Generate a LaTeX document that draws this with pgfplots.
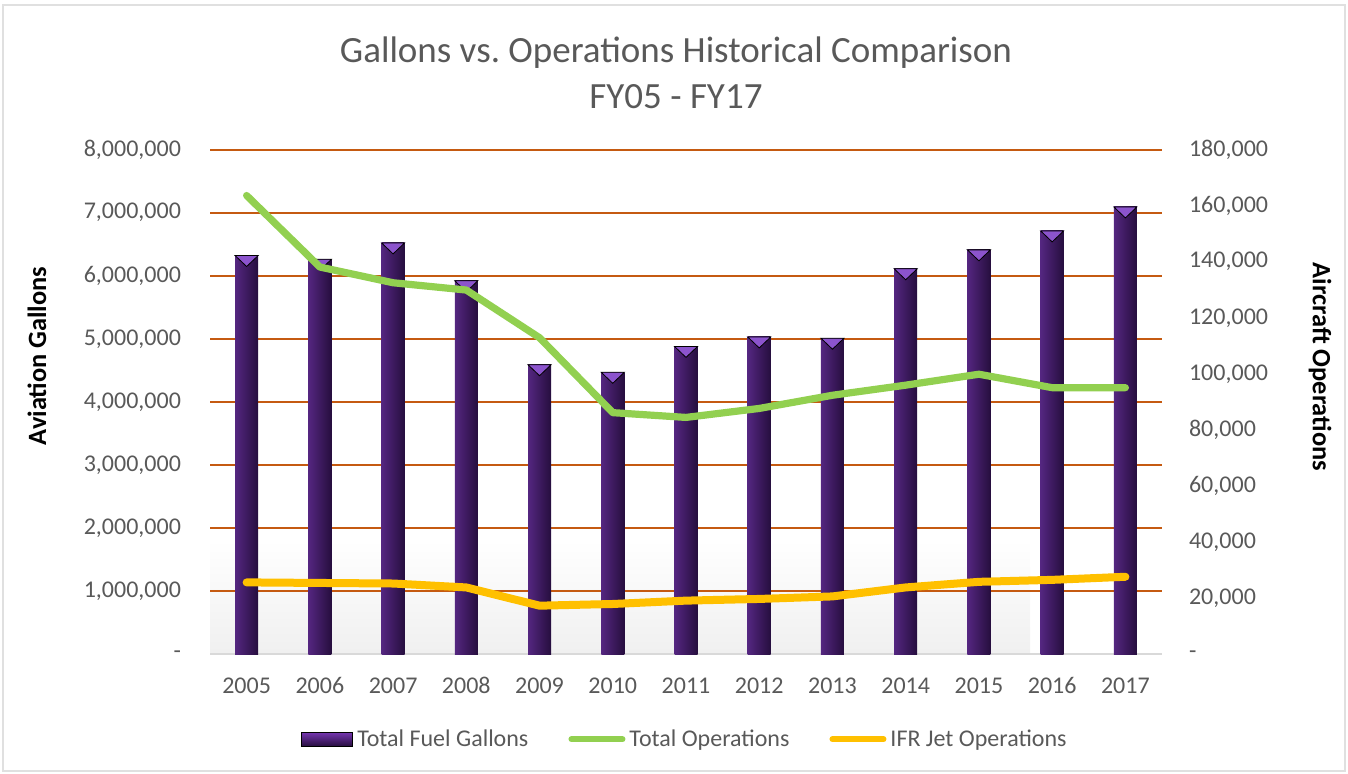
\documentclass[border=0pt]{standalone}
\usepackage{fontspec}
\setmainfont{Carlito}
\usepackage{pgfplots}
\pgfplotsset{compat=1.18}
\definecolor{textgray}{RGB}{89,89,89}
\definecolor{gridorange}{RGB}{197,90,17}
\definecolor{opsgreen}{RGB}{146,208,80}
\definecolor{ifryellow}{RGB}{255,192,0}
\definecolor{barleft}{RGB}{84,38,128}
\definecolor{barmid}{RGB}{118,54,176}
\definecolor{barright}{RGB}{38,14,62}
\definecolor{bevel}{RGB}{140,84,205}
\definecolor{basegray}{RGB}{217,217,217}
\pgfplotsset{mybar/.style={ybar, bar width=11.5pt, bar shift=0pt, draw=none, left color=barleft, middle color=barmid, right color=barright, forget plot}}
\begin{document}
\frenchspacing
\begin{tikzpicture}
\useasboundingbox (0,0) rectangle (674pt,387pt);
\draw[black!12, line width=0.6pt] (1.5pt,1.5pt) rectangle (672.5pt,384.5pt);
\fill[top color=white, bottom color=black!6] (105pt,59.75pt) rectangle (515pt,117pt);
\node[font=\fontsize{18.5}{22}\selectfont, text=textgray] at (338pt,360.5pt) {Gallons vs. Operations Historical Comparison};
\node[font=\fontsize{18.5}{22}\selectfont, text=textgray] at (338pt,338.5pt) {FY05 - FY17};
\node[font=\fontsize{13.2}{16}\selectfont\bfseries, rotate=90] at (18.5pt,209pt) {Aviation Gallons};
\node[font=\fontsize{13.2}{16}\selectfont\bfseries, rotate=-90] at (660pt,203.5pt) {Aircraft Operations};
\begin{axis}[
  at={(105pt,59.75pt)}, anchor=south west,
  scale only axis, width=476pt, height=252.5pt,
  xmin=-0.5, xmax=12.5, ymin=0, ymax=8000000,
  axis x line*=bottom, axis y line*=left,
  x axis line style={draw=basegray, line width=1pt, -},
  y axis line style={draw=none},
  major tick length=0pt,
  xtick={0,...,12},
  xticklabels={2005,2006,2007,2008,2009,2010,2011,2012,2013,2014,2015,2016,2017},
  ytick={0,1000000,2000000,3000000,4000000,5000000,6000000,7000000,8000000},
  yticklabels={{-},{1,000,000},{2,000,000},{3,000,000},{4,000,000},{5,000,000},{6,000,000},{7,000,000},{8,000,000}},
  ymajorgrids, grid style={draw=gridorange, line width=1pt},
  ticklabel style={font=\fontsize{12}{14}\selectfont, text=textgray},
  yticklabel style={xshift=-11pt},
  xticklabel style={yshift=-8pt},
  scaled y ticks=false,
]
\addplot[mybar] coordinates {(0,6320000)};
\addplot[mybar] coordinates {(1,6260000)};
\addplot[mybar] coordinates {(2,6520000)};
\addplot[mybar] coordinates {(3,5920000)};
\addplot[mybar] coordinates {(4,4590000)};
\addplot[mybar] coordinates {(5,4470000)};
\addplot[mybar] coordinates {(6,4880000)};
\addplot[mybar] coordinates {(7,5030000)};
\addplot[mybar] coordinates {(8,5010000)};
\addplot[mybar] coordinates {(9,6110000)};
\addplot[mybar] coordinates {(10,6410000)};
\addplot[mybar] coordinates {(11,6710000)};
\addplot[mybar] coordinates {(12,7090000)};
\addplot[only marks, mark=triangle*, mark size=6.64pt,
  mark options={yshift=-1.83pt, rotate=180, yscale=0.55, draw=none, fill=bevel}]
coordinates {(0,6320000) (1,6260000) (2,6520000) (3,5920000) (4,4590000) (5,4470000) (6,4880000) (7,5030000) (8,5010000) (9,6110000) (10,6410000) (11,6710000) (12,7090000)};
\end{axis}
\begin{axis}[
  at={(105pt,59.75pt)}, anchor=south west,
  scale only axis, width=476pt, height=252.5pt,
  xmin=-0.5, xmax=12.5, ymin=0, ymax=180000,
  axis x line=none, axis y line*=right,
  y axis line style={draw=none},
  major tick length=0pt,
  ytick={0,20000,40000,60000,80000,100000,120000,140000,160000,180000},
  yticklabels={{-},{20,000},{40,000},{60,000},{80,000},{100,000},{120,000},{140,000},{160,000},{180,000}},
  ticklabel style={font=\fontsize{12}{14}\selectfont, text=textgray},
  yticklabel style={xshift=10pt},
  scaled y ticks=false,
  legend columns=3,
  legend style={at={(0.5,-0.168)}, anchor=center, draw=none, fill=none,
    font=\fontsize{12}{14}\selectfont, text=textgray,
    /tikz/every even column/.append style={column sep=18pt},
    inner sep=0pt},
  legend image code/.code={\draw[#1, line width=3pt, line cap=round] (1.5pt,0pt) -- (27pt,0pt);},
]
\addlegendimage{legend image code/.code={\fill[top color=barmid, bottom color=barright] (0pt,-3.5pt) rectangle (25.5pt,3.5pt);}}
\addlegendentry{Total Fuel Gallons}
\addplot[opsgreen, line width=3.6pt, line cap=round, line join=round]
coordinates {(0,163600) (1,138100) (2,132500) (3,129900) (4,112900) (5,86200) (6,84500) (7,87700) (8,92400) (9,96000) (10,99900) (11,95100) (12,95100)};
\addlegendentry{Total Operations}
\addplot[ifryellow, line width=4pt, line cap=round, line join=round]
coordinates {(0,25700) (1,25500) (2,25300) (3,23900) (4,17400) (5,18000) (6,19200) (7,19800) (8,20700) (9,23900) (10,25900) (11,26600) (12,27700)};
\addlegendentry{IFR Jet Operations}
\end{axis}
\end{tikzpicture}
\end{document}
